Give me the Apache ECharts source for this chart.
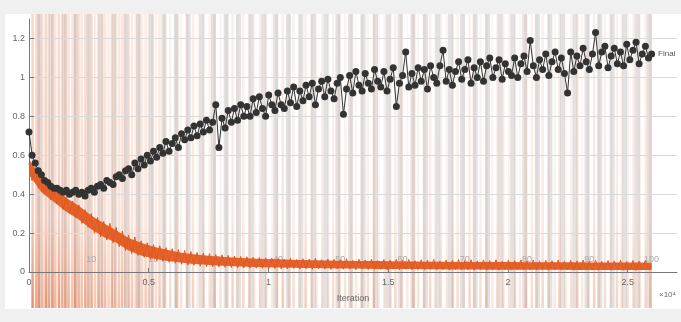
<!DOCTYPE html>
<html><head><meta charset="utf-8">
<script src="https://cdn.jsdelivr.net/npm/echarts@6/dist/echarts.min.js"></script>
<style>html,body{margin:0;padding:0;background:#f0f0f0}#c{width:681px;height:322px}</style>
</head><body><div id="c"></div>
<script>
// ---- data ----
const iterStep = 130;           // iterations between recorded samples
const bandStep = 520;           // iterations between envelope samples
const itersPerEpoch = 260;
const xTickLabels = ['0','0.5','1','1.5','2','2.5'];
const yTickLabels = ['0','0.2','0.4','0.6','0.8','1','1.2'];
const epochLabels = ['10','20','30','40','50','60','70','80','90','100'];

const trainLoss = [
0.56,0.47,0.54,0.43,0.49,0.40,0.46,0.37,0.44,0.35,
0.41,0.32,0.385,0.30,0.365,0.28,0.345,0.25,0.32,0.23,
0.30,0.20,0.28,0.18,0.26,0.165,0.25,0.15,0.23,0.13,
0.21,0.11,0.19,0.095,0.18,0.085,0.16,0.075,0.15,0.065,
0.14,0.06,0.135,0.055,0.125,0.05,0.12,0.045,0.115,0.04,
0.11,0.035,0.105,0.035,0.10,0.03,0.098,0.028,0.094,0.027,
0.09,0.026,0.088,0.024,0.085,0.023,0.082,0.022,0.08,0.021,
0.078,0.02,0.076,0.02,0.074,0.019,0.073,0.018,0.071,0.018,
0.07,0.017,0.066,0.016,0.07,0.019,0.064,0.015,0.068,0.017,
0.066,0.014,0.07,0.016,0.063,0.015,0.067,0.013,0.065,0.017,
0.063,0.014,0.068,0.015,0.06,0.012,0.065,0.016,0.062,0.013,
0.066,0.014,0.059,0.013,0.064,0.011,0.061,0.015,0.065,0.012,
0.06,0.014,0.064,0.012,0.058,0.013,0.063,0.011,0.061,0.014,
0.065,0.012,0.057,0.012,0.062,0.01,0.06,0.013,0.064,0.011,
0.059,0.012,0.063,0.01,0.057,0.013,0.062,0.011,0.059,0.012,
0.063,0.01,0.056,0.011,0.061,0.01,0.058,0.012,0.062,0.011,
0.057,0.011,0.062,0.01,0.055,0.012,0.06,0.009,0.058,0.011,
0.062,0.01,0.055,0.011,0.06,0.009,0.057,0.011,0.061,0.01,
0.056,0.01,0.061,0.009,0.054,0.011,0.059,0.009,0.057,0.01,
0.06,0.009,0.054,0.01,0.059,0.008,0.056,0.01,0.06,0.01,0.03
];
const trainLow = [0.50,0.41,0.36,0.31,0.27,0.22,0.18,0.15,0.11,0.085,0.07,0.058,0.05,0.043,0.038,0.034,0.031,0.028,0.026,0.024,
0.023,0.022,0.021,0.02,0.019,0.018,0.018,0.017,0.016,0.016,0.015,0.015,0.014,0.014,0.013,0.013,0.013,0.012,0.012,0.012,
0.011,0.011,0.011,0.011,0.01,0.01,0.01,0.01,0.01,0.01,0.01];
const trainHigh = [0.58,0.48,0.43,0.38,0.34,0.29,0.25,0.215,0.175,0.15,0.13,0.115,0.102,0.093,0.086,0.08,0.076,0.072,0.069,0.067,
0.065,0.063,0.062,0.06,0.059,0.058,0.057,0.056,0.056,0.055,0.054,0.054,0.053,0.053,0.052,0.052,0.052,0.051,0.051,0.051,
0.05,0.05,0.05,0.05,0.05,0.049,0.049,0.049,0.049,0.049,0.048];

const valLoss = [
0.72,0.60,0.56,0.52,0.50,0.47,0.46,0.44,0.43,0.43,
0.42,0.41,0.42,0.40,0.41,0.42,0.40,0.41,0.39,0.42,
0.43,0.41,0.44,0.45,0.43,0.47,0.46,0.45,0.49,0.50,
0.48,0.52,0.53,0.50,0.56,0.53,0.58,0.55,0.60,0.57,
0.62,0.59,0.64,0.61,0.67,0.62,0.66,0.69,0.64,0.71,
0.68,0.73,0.69,0.75,0.70,0.76,0.72,0.78,0.73,0.77,
0.86,0.64,0.79,0.74,0.83,0.77,0.84,0.78,0.86,0.80,
0.85,0.80,0.89,0.82,0.90,0.84,0.80,0.91,0.86,0.83,
0.92,0.86,0.84,0.93,0.87,0.95,0.85,0.93,0.88,0.96,
0.90,0.97,0.86,0.94,0.98,0.90,0.99,0.93,0.89,0.97,
1.00,0.81,0.94,1.01,0.92,1.03,0.96,0.93,1.02,0.97,
0.94,1.04,0.98,0.95,1.03,0.93,0.99,1.05,0.85,0.97,
1.01,1.13,0.95,1.02,0.96,1.05,0.98,1.04,0.94,1.06,
1.00,0.97,1.06,1.14,0.98,1.04,0.96,1.03,1.08,0.99,
1.04,1.09,0.97,1.05,1.00,1.08,0.98,1.06,1.10,1.00,
1.05,1.09,0.99,1.07,1.03,1.01,1.10,1.00,1.07,1.11,
1.03,1.19,1.06,1.00,1.09,1.04,1.12,1.01,1.08,1.13,
1.04,1.10,1.02,0.92,1.13,1.03,1.11,1.06,1.15,1.08,
1.04,1.12,1.23,1.06,1.13,1.16,1.05,1.11,1.15,1.07,
1.13,1.06,1.17,1.09,1.14,1.18,1.07,1.12,1.16,1.10,1.12
];

// raw-loss spikes (iteration, strength)
const spikeIter = [150,300,420,560,700,820,980,1100,1250,1380,1520,1650,1800,1930,2080,2200,2350,2480,2620,2760,2900,3050,3180,3320,3460,3600,3750,3880,4020,4170,4300,4450,4580,4720,4870,5000,5150,5300,5450,
5650,5900,6150,6350,6600,6850,7050,7300,7550,7750,8000,8250,8500,8700,8950,9200,9400,9650,9900,10150,10350,10600,10850,11050,11300,11550,11800,12000,12250,12500,12700,12950,13200,13450,13650,13900,14150,14400,14600,14850,15100,15300,15550,15800,16050,16250,16500,16750,16950,17200,17450,17700,17900,18150,18400,18600,18850,19100,19350,19550,19800,20050,20300,20500,20750,21000,21200,21450,21700,21950,22150,22400,22650,22900,23100,23350,23600,23800,24050,24300,24550,24750,25000,25250,25500,25750,25950];
const spikeStrength = [0.9,0.7,0.8,0.6,0.85,0.7,0.75,0.6,0.8,0.55,0.7,0.65,0.5,0.75,0.6,0.55,0.7,0.5,0.6,0.45,0.65,0.5,0.55,0.4,0.6,0.45,0.5,0.55,0.4,0.5,0.45,0.35,0.5,0.4,0.45,0.35,0.4,0.3,0.45,
0.4,0.3,0.45,0.25,0.35,0.4,0.2,0.35,0.3,0.45,0.25,0.3,0.4,0.2,0.35,0.3,0.25,0.4,0.3,0.2,0.35,0.45,0.25,0.3,0.2,0.4,0.3,0.25,0.35,0.2,0.3,0.4,0.25,0.3,0.2,0.35,0.3,0.45,0.2,0.3,0.25,0.35,0.3,0.2,0.4,0.25,0.3,0.35,0.2,0.3,0.25,0.4,0.3,0.2,0.35,0.25,0.3,0.4,0.2,0.3,0.35,0.25,0.3,0.2,0.4,0.3,0.25,0.35,0.3,0.2,0.4,0.25,0.3,0.35,0.2,0.3,0.4,0.25,0.3,0.2,0.35,0.3,0.25,0.4,0.3,0.35,0.45];
const shadeIter = [380,880,1420,1900,2450,2950,3500,4000,4520,5050,5580,6100,6600,7150,7650,8180,8700,9220,9750,10250,10780,11300,11820,12350,12850,13380,13900,14420,14950,15450,15980,16500,17020,17550,18050,18580,19100,19620,20150,20650,21180,21700,22220,22750,23250,23780,24300,24820,25350,25850];

// ---- chart ----
const chart = echarts.init(document.getElementById('c'), null, {renderer:'canvas'});
const xMax = 27060;
const font = 'Liberation Sans, Arial, sans-serif';
const orange = '#e2581d';

const spikeData = spikeIter.map((x,i)=>{
  const s = spikeStrength[i] != null ? spikeStrength[i] : 0.3;
  return {value:[x,1], itemStyle:{color:new echarts.graphic.LinearGradient(0,0,0,1,[
    {offset:0,color:'rgba(228,110,60,'+(s*0.3).toFixed(3)+')'},
    {offset:0.7,color:'rgba(228,110,60,'+(s*0.4).toFixed(3)+')'},
    {offset:1,color:'rgba(228,105,55,'+(s*0.85).toFixed(3)+')'}])}};
});
const shadeData = shadeIter.map(x=>[x,1]);

chart.setOption({
  animation:false,
  backgroundColor:'#f0f0f0',
  graphic:[{type:'rect',z:-100,silent:true,shape:{x:5,y:14,width:676,height:295},style:{fill:'#ffffff'}},
           {type:'text',left:659,top:291,style:{text:'×10⁴',font:'8px '+font,fill:'#666'}}],
  grid:[{left:29,right:4,top:19,bottom:50,containLabel:false,outerBoundsMode:'none'},
        {left:29,right:4,top:14,bottom:14,containLabel:false,outerBoundsMode:'none'}],
  xAxis:[
    {gridIndex:0,type:'value',min:0,max:xMax,interval:5000,
     name:'Iteration',nameLocation:'middle',nameGap:22,nameTextStyle:{fontSize:9,color:'#666',fontFamily:font},
     axisLine:{lineStyle:{color:'#777'}},axisTick:{inside:true,length:4,lineStyle:{color:'#777'}},
     axisLabel:{fontSize:9,color:'#666',fontFamily:font,margin:6,showMaxLabel:false,
       formatter:(v)=>xTickLabels[Math.round(v/5000)]||''},
     splitLine:{show:false}},
    {gridIndex:0,type:'value',min:0,max:xMax/itersPerEpoch,interval:10,position:'bottom',
     axisLine:{show:false},axisTick:{show:false},splitLine:{show:false},
     axisLabel:{inside:true,margin:8,fontSize:9,color:'#aaa',fontFamily:font,showMaxLabel:false,showMinLabel:false,
       formatter:(v)=>epochLabels[Math.round(v/10)-1]||''}},
    {gridIndex:1,type:'value',min:0,max:xMax,show:false}
  ],
  yAxis:[
    {gridIndex:0,type:'value',min:0,max:1.3,interval:0.2,
     name:'Loss',nameLocation:'middle',nameGap:16,nameTextStyle:{fontSize:9,color:'#666',fontFamily:font},
     axisLine:{show:true,lineStyle:{color:'#777'}},axisTick:{show:true,inside:true,length:5,lineStyle:{color:'#777'}},
     axisLabel:{fontSize:9,color:'#666',fontFamily:font,margin:4,showMaxLabel:false,
       formatter:(v)=>yTickLabels[Math.round(v/0.2)]||''},
     splitLine:{show:true,showMaxLine:false,lineStyle:{color:'#dadada'}}},
    {gridIndex:1,type:'value',min:0,max:1,show:false}
  ],
  series:[
    {type:'bar',xAxisIndex:2,yAxisIndex:1,data:shadeData,barWidth:5,z:-3,silent:true,
     itemStyle:{color:'rgba(175,175,175,0.36)'}},
    {type:'bar',xAxisIndex:2,yAxisIndex:1,data:spikeData,barWidth:2.5,barGap:'-100%',z:-2,silent:true},
    {type:'custom',xAxisIndex:0,yAxisIndex:0,data:[[0,0]],silent:true,z:3,
     renderItem:(params,api)=>{
       const up = trainHigh.map((v,i)=>api.coord([i*bandStep,v]));
       const dn = trainLow.map((v,i)=>api.coord([i*bandStep,v])).reverse();
       return {type:'polygon',shape:{points:up.concat(dn)},style:{fill:orange,opacity:0.92}};
     }},
    {type:'line',xAxisIndex:0,yAxisIndex:0,data:trainLoss.map((v,i)=>[i*iterStep,v]),
     showSymbol:false,lineStyle:{color:orange,width:1},z:3},
    {type:'line',xAxisIndex:0,yAxisIndex:0,data:valLoss.map((v,i)=>{
        const d={value:[i*iterStep,v]};
        if(i===valLoss.length-1) d.label={show:true,formatter:'Final',position:'right',distance:3,fontSize:8,color:'#555',fontFamily:font};
        return d;}),
     symbol:'circle',symbolSize:7,showAllSymbol:true,
     lineStyle:{color:'#333',width:1},itemStyle:{color:'#333'},z:4}
  ]
});
</script></body></html>
